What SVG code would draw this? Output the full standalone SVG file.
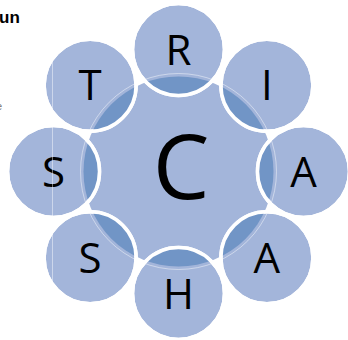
<svg xmlns="http://www.w3.org/2000/svg" width="348" height="340" viewBox="0 0 348 340">
<defs>
<style>
.outer{fill:#a3b5da;stroke:#fff;stroke-width:3.5}
.lens{fill:#7195c6}
.lbl{font-family:"Open Sans","Liberation Sans",sans-serif;font-size:42px;fill:#000;text-anchor:middle}
.faint{fill:none;stroke:#fff;stroke-opacity:0.45;stroke-width:1}
</style>
<clipPath id="core"><circle cx="178.5" cy="171.5" r="95"/></clipPath>
</defs>
<rect width="348" height="340" fill="#fff"/>
<text x="-1" y="23" font-family="'Liberation Sans',sans-serif" font-weight="bold" font-size="17" fill="#000">un</text>
<text x="-4" y="110" font-family="'Liberation Sans',sans-serif" font-size="11" fill="#777">e</text>
<g id="center">
<circle cx="178.5" cy="171.5" r="95" fill="#a3b5da"/>
</g>
<g id="connectors"></g>
<g id="n-R"><circle class="outer" cx="178.5" cy="49.5" r="46"/><circle class="lens" cx="178.5" cy="49.5" r="46" clip-path="url(#core)"/><circle cx="178.5" cy="49.5" r="46" fill="none" stroke="#fff" stroke-width="3.5"/><text class="lbl" x="178.5" y="64.5">R</text></g>
<g id="n-I"><circle class="outer" cx="266.9" cy="85.2" r="46"/><circle class="lens" cx="266.9" cy="85.2" r="46" clip-path="url(#core)"/><circle cx="266.9" cy="85.2" r="46" fill="none" stroke="#fff" stroke-width="3.5"/><text class="lbl" x="266.9" y="100.2">I</text></g>
<g id="n-A1"><circle class="outer" cx="303.5" cy="171.5" r="46"/><circle class="lens" cx="303.5" cy="171.5" r="46" clip-path="url(#core)"/><circle cx="303.5" cy="171.5" r="46" fill="none" stroke="#fff" stroke-width="3.5"/><text class="lbl" x="303.5" y="186.5">A</text></g>
<g id="n-A2"><circle class="outer" cx="266.9" cy="257.8" r="46"/><circle class="lens" cx="266.9" cy="257.8" r="46" clip-path="url(#core)"/><circle cx="266.9" cy="257.8" r="46" fill="none" stroke="#fff" stroke-width="3.5"/><text class="lbl" x="266.9" y="272.8">A</text></g>
<g id="n-H"><circle class="outer" cx="178.5" cy="293.5" r="46"/><circle class="lens" cx="178.5" cy="293.5" r="46" clip-path="url(#core)"/><circle cx="178.5" cy="293.5" r="46" fill="none" stroke="#fff" stroke-width="3.5"/><text class="lbl" x="178.5" y="308.5">H</text></g>
<g id="n-S2"><circle class="outer" cx="90.1" cy="257.8" r="46"/><circle class="lens" cx="90.1" cy="257.8" r="46" clip-path="url(#core)"/><circle cx="90.1" cy="257.8" r="46" fill="none" stroke="#fff" stroke-width="3.5"/><text class="lbl" x="90.1" y="272.8">S</text></g>
<g id="n-S1"><circle class="outer" cx="53.5" cy="171.5" r="46"/><circle class="lens" cx="53.5" cy="171.5" r="46" clip-path="url(#core)"/><circle cx="53.5" cy="171.5" r="46" fill="none" stroke="#fff" stroke-width="3.5"/><text class="lbl" x="53.5" y="186.5">S</text></g>
<g id="n-T"><circle class="outer" cx="90.1" cy="85.2" r="46"/><circle class="lens" cx="90.1" cy="85.2" r="46" clip-path="url(#core)"/><circle cx="90.1" cy="85.2" r="46" fill="none" stroke="#fff" stroke-width="3.5"/><text class="lbl" x="90.1" y="100.2">T</text></g>
<circle class="faint" cx="178.5" cy="171.5" r="98"/>
<line class="faint" x1="52.5" y1="0" x2="52.5" y2="340"/>
<text x="181" y="199" font-family="'Open Sans','Liberation Sans',sans-serif" font-size="90" fill="#000" text-anchor="middle">C</text>
</svg>
